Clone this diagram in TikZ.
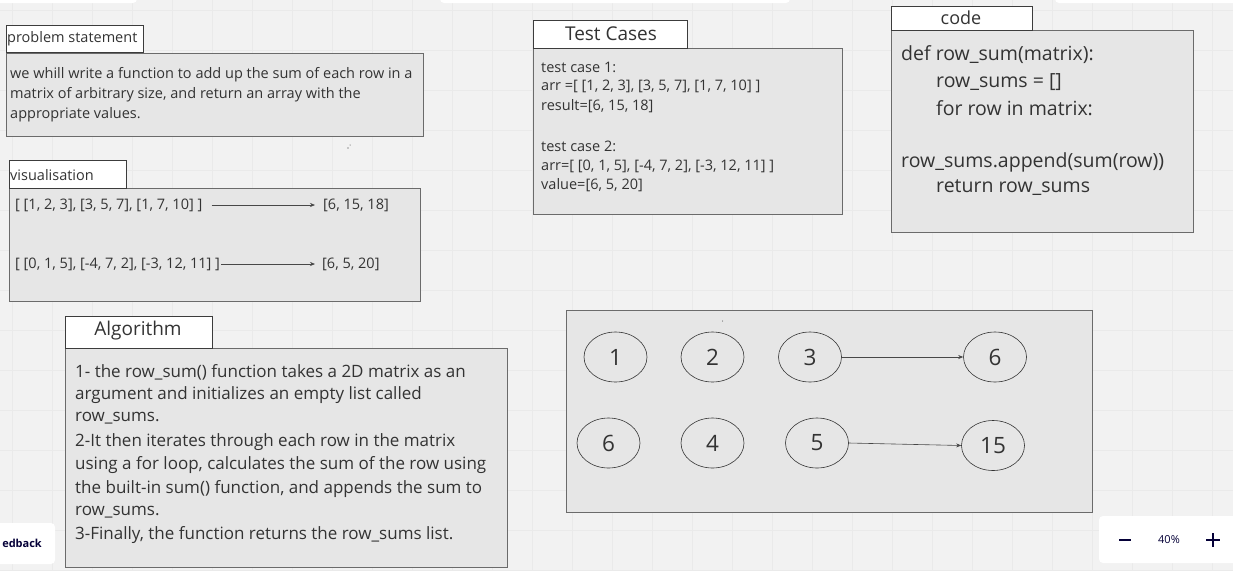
\documentclass[tikz,border=0pt]{standalone}
\usepackage{fontspec}
\setmainfont{Open Sans}
\usetikzlibrary{shapes.geometric,arrows.meta}
\definecolor{bg}{HTML}{F2F2F2}
\definecolor{gridc}{HTML}{EAEAEA}
\definecolor{boxfill}{HTML}{E6E6E6}
\definecolor{boxline}{HTML}{6B6B6B}
\definecolor{labline}{HTML}{3C3C3C}
\definecolor{txt}{HTML}{333333}
\definecolor{navy}{HTML}{050038}
\tikzset{
  panel/.style={draw=boxline, fill=boxfill, line width=0.9pt, anchor=north west, inner sep=0pt},
  labelbox/.style={draw=labline, fill=white, line width=0.9pt, anchor=north west, inner sep=0pt},
  txtline/.style={anchor=west, inner sep=0pt, text=txt},
  smalltxt/.style={txtline, font=\fontsize{14.5}{17}\selectfont},
  codetxt/.style={txtline, font=\fontsize{19.5}{23}\selectfont},
  algtxt/.style={txtline, font=\fontsize{17}{20}\selectfont},
  circ/.style={draw=txt, ellipse, line width=0.6pt, minimum width=63pt, minimum height=50pt, inner sep=0pt, text=txt, font=\fontsize{22.5}{26}\selectfont},
  arr/.style={draw=txt!90, line width=0.6pt, -{Stealth[length=5pt,width=4pt]}},
  uibox/.style={fill=white, rounded corners=4pt, draw=none},
}
\begin{document}
\begin{tikzpicture}[x=1pt,y=-1pt]
\useasboundingbox (0,0) rectangle (1233,571);
\fill[bg] (0,0) rectangle (1233,571);
\foreach \gx in {12,52,...,1233} \draw[gridc, line width=0.5pt] (\gx,0) -- (\gx,571);
\foreach \gy in {10,50,...,571} \draw[gridc, line width=0.5pt] (0,\gy) -- (1233,\gy);
% top UI bits
\fill[uibox] (-10,-10) rectangle (137,3);
\fill[uibox] (440,-10) rectangle (790,3);
\fill[uibox] (1055,-10) rectangle (1243,3);

% problem statement
\node[panel, minimum width=417pt, minimum height=83pt] (pbox) at (6,53) {};
\node[labelbox, minimum width=137pt, minimum height=27pt] (plab) at (6,25) {};
\node[smalltxt] (plabt) at (7,39) {problem statement};
\node[smalltxt] (p1) at (10,75) {we whill write a function to add up the sum of each row in a};
\node[smalltxt] (p2) at (10,95) {matrix of arbitrary size, and return an array with the};
\node[smalltxt] (p3) at (10,115) {appropriate values.};
\fill[txt] (348,148) circle (0.6pt);
\fill[txt] (350,145) circle (0.5pt);

% visualisation
\node[panel, minimum width=411pt, minimum height=113pt] (vbox) at (9,188) {};
\node[labelbox, minimum width=117pt, minimum height=28pt] (vlab) at (9,160) {};
\node[smalltxt] (vlabt) at (10,175) {visualisation};
\node[smalltxt] (v1l) at (15,205) {[ [1, 2, 3], [3, 5, 7], [1, 7, 10] ]};
\node[smalltxt] (v1r) at (323,205) {[6, 15, 18]};
\node[smalltxt] (v2l) at (15,264) {[ [0, 1, 5], [-4, 7, 2], [-3, 12, 11] ]};
\node[smalltxt] (v2r) at (322,264) {[6, 5, 20]};
\draw[arr, shorten <=9pt, shorten >=8pt] (v1l.east) -- (v1r.west);
\draw[arr, shorten <=1pt, shorten >=7pt] (v2l.east) -- (v2r.west);

% test cases
\node[panel, minimum width=309pt, minimum height=166pt] (tbox) at (533,48) {};
\node[labelbox, minimum width=154pt, minimum height=28pt] (tlab) at (533,20) {};
\node[anchor=center, inner sep=0pt, text=txt, font=\fontsize{19}{22}\selectfont] (tlabt) at (611,34) {Test Cases};
\node[smalltxt] (t1) at (541,67) {test case 1:};
\node[smalltxt] (t2) at (541,86) {arr =[ [1, 2, 3], [3, 5, 7], [1, 7, 10] ]};
\node[smalltxt] (t3) at (541,106) {result=[6, 15, 18]};
\node[smalltxt] (t4) at (541,146) {test case 2:};
\node[smalltxt] (t5) at (541,166) {arr=[ [0, 1, 5], [-4, 7, 2], [-3, 12, 11] ]};
\node[smalltxt] (t6) at (541,185) {value=[6, 5, 20]};

% code
\node[panel, minimum width=302pt, minimum height=202pt] (cbox) at (891,30) {};
\node[labelbox, minimum width=141pt, minimum height=24pt] (clab) at (891,6) {};
\node[anchor=center, inner sep=0pt, text=txt, font=\fontsize{18}{20}\selectfont] (clabt) at (961,18) {code};
\node[codetxt] (c1) at (901,55) {def row\_sum(matrix):};
\node[codetxt] (c2) at (936,82) {row\_sums = []};
\node[codetxt] (c3) at (936,108) {for row in matrix:};
\node[codetxt] (c4) at (901,162) {row\_sums.append(sum(row))};
\node[codetxt] (c5) at (936,188) {return row\_sums};

% algorithm
\node[panel, minimum width=442pt, minimum height=219pt] (abox) at (65,348) {};
\node[labelbox, minimum width=147pt, minimum height=32pt] (alab) at (65,316) {};
\node[anchor=center, inner sep=0pt, text=txt, font=\fontsize{19}{24}\selectfont] (alabt) at (138,331) {Algorithm};
\node[algtxt] (a1) at (75,372) {1- the row\_sum() function takes a 2D matrix as an};
\node[algtxt] (a2) at (75,395) {argument and initializes an empty list called};
\node[algtxt] (a3) at (75,418) {row\_sums.};
\node[algtxt] (a4) at (75,442) {2-It then iterates through each row in the matrix};
\node[algtxt] (a5) at (75,465) {using a for loop, calculates the sum of the row using};
\node[algtxt] (a6) at (75,489) {the built-in sum() function, and appends the sum to};
\node[algtxt] (a7) at (75,512) {row\_sums.};
\node[algtxt] (a8) at (75,535) {3-Finally, the function returns the row\_sums list.};

% circles panel
\node[panel, minimum width=526pt, minimum height=202pt] (ebox) at (566,310) {};
\fill[txt] (722.5,321) circle (0.5pt);
\node[circ] (e1) at (615.5,357) {1};
\node[circ] (e2) at (712.5,357) {2};
\node[circ] (e3) at (810,357) {3};
\node[circ] (e6a) at (995,357) {6};
\node[circ] (e6b) at (608.5,443) {6};
\node[circ] (e4) at (712.5,443) {4};
\node[circ] (e5) at (817,443) {5};
\node[circ] (e15) at (993,445.5) {15};
\draw[arr] (e3.east) -- (e6a.west);
\draw[arr] (e5.east) -- (e15.west);

% UI overlays
\fill[uibox] (-10,523) rectangle (55,564);
\node[anchor=east, inner sep=0pt, text=navy, font=\fontsize{11}{13}\selectfont\bfseries] (fb) at (42,543.5) {edback};
\fill[uibox] (1099,516) rectangle (1243,563);
\node[inner sep=0pt, text=navy, font=\fontsize{11}{13}\selectfont] (zp) at (1169,540) {40\%};
\draw[navy, line width=1.6pt] (1119,540) -- (1131,540);
\draw[navy, line width=1.6pt] (1206,540) -- (1220,540) (1213,533) -- (1213,547);
\end{tikzpicture}
\end{document}
